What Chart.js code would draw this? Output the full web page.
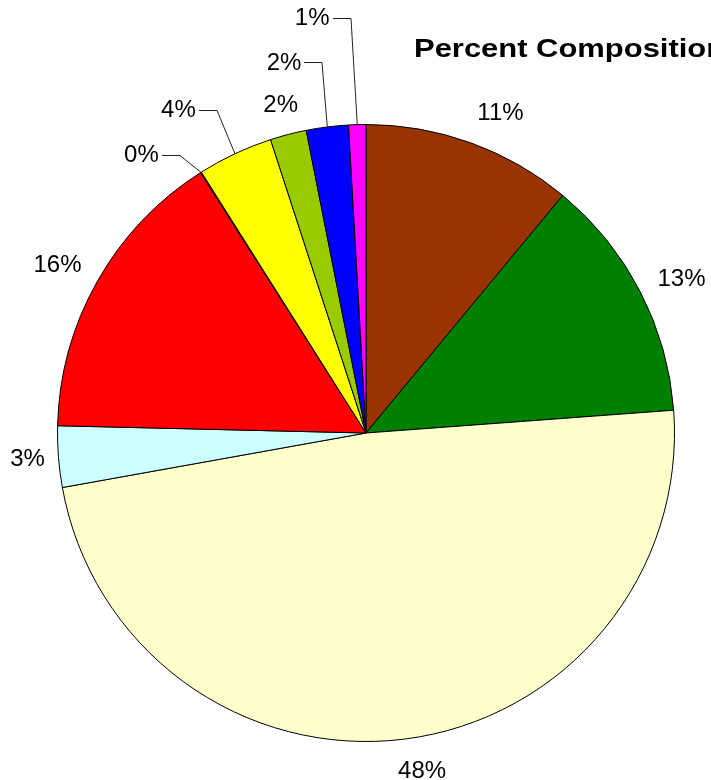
<!DOCTYPE html>
<html>
<head>
<meta charset="utf-8">
<script src="https://cdn.jsdelivr.net/npm/chart.js@4"></script>
<style>
  html, body { margin: 0; padding: 0; background: #fff; }
  #wrap { width: 711px; height: 780px; position: relative; overflow: hidden; }
</style>
</head>
<body>
<div id="wrap"><canvas id="pie"></canvas></div>
<script>
// slices clockwise from 12 o'clock
const sliceValues = [11.0, 12.8, 48.3, 3.2, 15.6, 0.05, 3.95, 1.9, 2.2, 0.9];
const sliceLabels = ['11%', '13%', '48%', '3%', '16%', '0%', '4%', '2%', '2%', '1%'];
const sliceColors = ['#993300', '#008000', '#FFFFCC', '#CCFFFF', '#FF0000',
                     '#FF9900', '#FFFF00', '#99CC00', '#0000FF', '#FF00FF'];
const chartTitle = 'Percent Composition';

// labels dragged off the pie, drawn with a leader line.
// index -> clock angle (deg from 12 o'clock) and distance in radii
const leaderSpots = {
  5: { deg: 321.0, dist: 1.157 },
  6: { deg: 329.8, dist: 1.209 },
  8: { deg: 347.5, dist: 1.227 },
  9: { deg: 352.6, dist: 1.354 },
};
// small hand tweaks of the outside labels (deg, px)
const labelNudge = {
  0: { deg: 3, dist: 4 },
  1: { deg: 1.3, dist: 0 },
  2: { deg: -2.2, dist: 5 },
  3: { deg: 0, dist: -4 },
  4: { deg: -1, dist: 0 },
};

const LABEL_FONT = '24px "Liberation Sans", Arial, sans-serif';

const pctLabels = {
  id: 'pctLabels',
  afterDatasetsDraw(chart) {
    const ctx = chart.ctx;
    const arcs = chart.getDatasetMeta(0).data;
    ctx.save();
    ctx.font = LABEL_FONT;
    ctx.fillStyle = '#000';
    ctx.strokeStyle = '#222';
    ctx.lineWidth = 1;
    ctx.textAlign = 'center';
    ctx.textBaseline = 'middle';
    arcs.forEach((arc, i) => {
      const { x, y, startAngle, endAngle, outerRadius } =
        arc.getProps(['x', 'y', 'startAngle', 'endAngle', 'outerRadius'], true);
      const mid = (startAngle + endAngle) / 2;
      const cos = Math.cos(mid), sin = Math.sin(mid);
      const text = sliceLabels[i];
      const w = ctx.measureText(text).width;
      const spot = leaderSpots[i];
      if (!spot) {
        const n = labelNudge[i] || { deg: 0, dist: 0 };
        const a = mid + n.deg * Math.PI / 180;
        const ca = Math.cos(a), sa = Math.sin(a);
        const d = outerRadius + 17 + n.dist + Math.abs(ca) * w / 2 + Math.abs(sa) * 9;
        ctx.fillText(text, x + ca * d, y + sa * d);
        return;
      }
      const a = (spot.deg - 90) * Math.PI / 180;
      const tx = x + Math.cos(a) * spot.dist * outerRadius;
      const ty = y + Math.sin(a) * spot.dist * outerRadius;
      ctx.fillText(text, tx, ty);
      const lx = Math.round(tx + w / 2 + 3), ly = Math.round(ty - 1) + 0.5;
      ctx.beginPath();
      ctx.moveTo(lx, ly);
      ctx.lineTo(lx + 18, ly);
      ctx.lineTo(x + cos * outerRadius, y + sin * outerRadius);
      ctx.stroke();
    });
    ctx.restore();
  },
};

// title runs off the right edge and is drawn wide, as in the original
const stretchedTitle = {
  id: 'stretchedTitle',
  afterDraw(chart) {
    const ctx = chart.ctx;
    ctx.save();
    ctx.font = 'bold 26px "Liberation Sans", Arial, sans-serif';
    ctx.fillStyle = '#000';
    ctx.textAlign = 'left';
    ctx.textBaseline = 'alphabetic';
    ctx.translate(414, 57);
    ctx.scale(1.19, 1);
    ctx.fillText(chartTitle, 0, 0);
    ctx.restore();
  },
};

new Chart(document.getElementById('pie'), {
  type: 'pie',
  data: {
    labels: sliceLabels,
    datasets: [{
      data: sliceValues,
      backgroundColor: sliceColors,
      borderColor: '#000',
      borderWidth: 1,
    }],
  },
  options: {
    responsive: true,
    maintainAspectRatio: false,
    animation: false,
    layout: { padding: { left: 57, right: 36, top: 124, bottom: 38 } },
    plugins: {
      legend: { display: false },
      tooltip: { enabled: false },
    },
  },
  plugins: [pctLabels, stretchedTitle],
});
</script>
</body>
</html>
